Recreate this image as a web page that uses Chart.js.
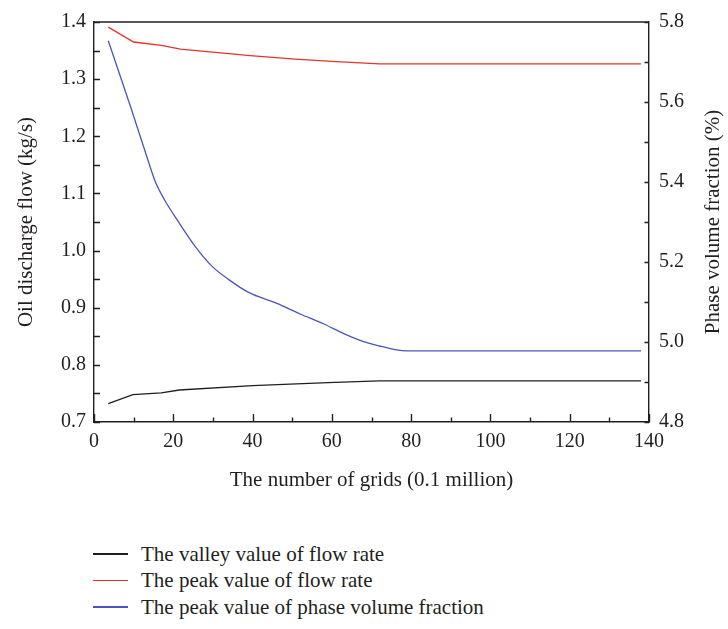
<!DOCTYPE html>
<html>
<head>
<meta charset="utf-8">
<script src="https://cdn.jsdelivr.net/npm/chart.js@4.4.1/dist/chart.umd.min.js"></script>
<style>
  html, body { margin: 0; padding: 0; background: #ffffff; }
  #wrap { position: relative; width: 728px; height: 629px; overflow: hidden; }
  #chart { position: absolute; left: 0; top: 0; }
  .legend-row { position: absolute; left: 93px; height: 28px; display: flex; align-items: center;
                font-family: "Liberation Serif", "DejaVu Serif", serif; font-size: 21px; color: #231f20; white-space: nowrap; }
  .legend-line { width: 35px; height: 1.4px; margin-right: 13px; }
</style>
</head>
<body>
<div id="wrap">
  <canvas id="chart" width="728" height="500"></canvas>
  <div id="legend"></div>
</div>
<script>
// Grid count (0.1 million) for each computed case
const gridValley = [3.6, 9.8, 17, 21.5, 40, 59, 72, 138];
const valleyFlow = [0.732, 0.748, 0.751, 0.756, 0.7635, 0.769, 0.772, 0.772];

const gridPeak = [3.6, 10, 17, 21.8, 39.4, 50.8, 60, 72, 138];
const peakFlow = [1.391, 1.365, 1.359, 1.3525, 1.341, 1.335, 1.331, 1.3267, 1.3267];

const gridPhase = [3.6, 9.5, 13.5, 15.5, 18, 21.4, 25.6, 29.8, 34, 39, 46, 52, 58, 63, 68, 72, 76, 79, 138];
const peakPhase = [5.753, 5.58, 5.458, 5.40, 5.352, 5.299, 5.238, 5.189, 5.156, 5.124, 5.097, 5.07, 5.045, 5.021, 5.001, 4.99, 4.981, 4.978, 4.978];

// Axis tick labels
const xTicks = [0, 20, 40, 60, 80, 100, 120, 140];
const flowTicks = [0.7, 0.8, 0.9, 1.0, 1.1, 1.2, 1.3, 1.4];
const phaseTicks = [4.8, 5.0, 5.2, 5.4, 5.6, 5.8];

const seriesNames = [
  'The valley value of flow rate',
  'The peak value of flow rate',
  'The peak value of phase volume fraction'
];

const INK = '#231f20';
const FONT = '"Liberation Serif", "DejaVu Serif", serif';
const COLORS = ['#231f20', '#e5332a', '#4b55b8'];

const pts = (xs, ys) => xs.map((x, i) => ({ x: x, y: ys[i] }));
const fixedTicks = list => scale => { scale.ticks = list.map(v => ({ value: v })); };

// Labelled ticks plus the unlabelled ones halfway between them
function withMinor(list) {
  const out = [];
  list.forEach((v, i) => {
    out.push({ v: v, major: true });
    if (i < list.length - 1) out.push({ v: (v + list[i + 1]) / 2, major: false });
  });
  return out;
}

// Inward tick marks, top frame line and right-hand axis title
const frameTicks = {
  id: 'frameTicks',
  afterDraw(chart) {
    const { ctx, chartArea: a, scales } = chart;
    ctx.save();
    ctx.strokeStyle = INK;
    ctx.lineWidth = 1.4;
    ctx.beginPath();
    ctx.moveTo(a.left, a.top);
    ctx.lineTo(a.right, a.top);
    withMinor(xTicks).forEach(t => {
      const px = Math.round(scales.x.getPixelForValue(t.v)) + 0.5;
      ctx.moveTo(px, a.bottom);
      ctx.lineTo(px, a.bottom - (t.major ? 8 : 4.5));
    });
    withMinor(flowTicks).forEach(t => {
      const py = Math.round(scales.y.getPixelForValue(t.v)) + 0.5;
      ctx.moveTo(a.left, py);
      ctx.lineTo(a.left + 6, py);
    });
    withMinor(phaseTicks).forEach(t => {
      const py = Math.round(scales.y1.getPixelForValue(t.v)) + 0.5;
      ctx.moveTo(a.right, py);
      ctx.lineTo(a.right - 4.5, py);
    });
    ctx.stroke();

    ctx.fillStyle = INK;
    ctx.font = '21px ' + FONT;
    ctx.textAlign = 'center';
    ctx.textBaseline = 'middle';
    ctx.translate(713, (a.top + a.bottom) / 2);
    ctx.rotate(-Math.PI / 2);
    ctx.fillText('Phase volume fraction (%)', 0, 0);
    ctx.restore();
  }
};

const tickFont = { family: FONT, size: 20 };
const titleFont = { family: FONT, size: 21 };

const chart = new Chart(document.getElementById('chart'), {
  type: 'line',
  data: {
    datasets: [
      { label: seriesNames[0], data: pts(gridValley, valleyFlow), yAxisID: 'y',
        borderColor: COLORS[0], borderWidth: 1.3, pointRadius: 0, tension: 0 },
      { label: seriesNames[1], data: pts(gridPeak, peakFlow), yAxisID: 'y',
        borderColor: COLORS[1], borderWidth: 1.3, pointRadius: 0, tension: 0 },
      { label: seriesNames[2], data: pts(gridPhase, peakPhase), yAxisID: 'y1',
        borderColor: COLORS[2], borderWidth: 1.3, pointRadius: 0, cubicInterpolationMode: 'monotone' }
    ]
  },
  options: {
    responsive: false,
    animation: false,
    devicePixelRatio: 1,
    layout: { padding: { top: 14, left: 0, right: 0, bottom: 0 } },
    plugins: { legend: { display: false }, tooltip: { enabled: false } },
    scales: {
      x: {
        type: 'linear', min: 0, max: 140,
        afterBuildTicks: fixedTicks(xTicks),
        afterFit: s => { s.height = 78; },
        grid: { display: false, drawTicks: false },
        border: { display: true, color: INK, width: 1.4 },
        ticks: { font: tickFont, color: INK, padding: 8, maxRotation: 0, callback: v => String(v) },
        title: { display: true, text: 'The number of grids (0.1 million)', font: titleFont, color: INK,
                 padding: { top: 0, bottom: 7 } }
      },
      y: {
        type: 'linear', position: 'left', min: 0.7, max: 1.4,
        afterBuildTicks: fixedTicks(flowTicks),
        afterFit: s => { s.width = 94; },
        grid: { display: false, drawTicks: false },
        border: { display: true, color: INK, width: 1.4 },
        ticks: { font: tickFont, color: INK, padding: 8, callback: v => Number(v).toFixed(1) },
        title: { display: true, text: 'Oil discharge flow (kg/s)', font: titleFont, color: INK,
                 padding: { top: 14, bottom: 0 } }
      },
      y1: {
        type: 'linear', position: 'right', min: 4.8, max: 5.8,
        afterBuildTicks: fixedTicks(phaseTicks),
        afterFit: s => { s.width = 79; },
        grid: { display: false, drawTicks: false },
        border: { display: true, color: INK, width: 1.4 },
        ticks: { font: tickFont, color: INK, padding: 10, callback: v => Number(v).toFixed(1) }
      }
    }
  },
  plugins: [frameTicks]
});

// Legend rows built from the chart's datasets
const legend = document.getElementById('legend');
const rowCenters = [554, 580.5, 607];
chart.data.datasets.forEach((ds, i) => {
  const row = document.createElement('div');
  row.className = 'legend-row';
  row.style.top = (rowCenters[i] - 14) + 'px';
  const line = document.createElement('span');
  line.className = 'legend-line';
  line.style.background = ds.borderColor;
  const text = document.createElement('span');
  text.textContent = ds.label;
  row.appendChild(line);
  row.appendChild(text);
  legend.appendChild(row);
});
</script>
</body>
</html>
